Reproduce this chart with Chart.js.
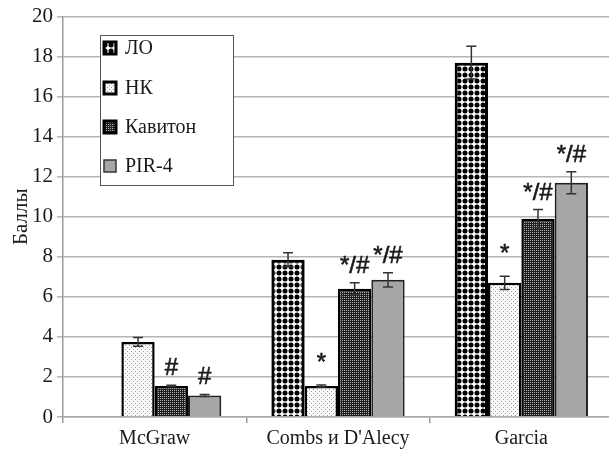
<!DOCTYPE html>
<html>
<head>
<meta charset="utf-8">
<script src="https://cdn.jsdelivr.net/npm/chart.js@4/dist/chart.umd.min.js"></script>
<style>
html,body{margin:0;padding:0;overflow:hidden;background:#fff;}
#wrap{width:616px;height:451px;}
</style>
</head>
<body>
<div id="wrap"><canvas id="c" width="616" height="451"></canvas></div>
<script>
// ---- data ----
const categories = ['McGraw', "Combs и D'Alecy", 'Garcia'];
const seriesNames = ['ЛО', 'НК', 'Кавитон', 'PIR-4'];
const loValues  = [null, 7.85, 17.7];
const loErr     = [0, 0.35, 0.82];
const nkValues  = [3.75, 1.55, 6.7];
const nkErr     = [0.22, 0.05, 0.33];
const kavValues = [1.55, 6.4, 9.9];
const kavErr    = [0.03, 0.3, 0.46];
const pirValues = [1.08, 6.85, 11.7];
const pirErr    = [0.05, 0.36, 0.55];
const loMarks   = ['', '', ''];
const nkMarks   = ['', '*', '*'];
const kavMarks  = ['#', '*/#', '*/#'];
const pirMarks  = ['#', '*/#', '*/#'];
const yTicks = [0, 2, 4, 6, 8, 10, 12, 14, 16, 18, 20];
const yTitle = 'Баллы';

const serif = '"Liberation Serif", "Times New Roman", serif';
const canvas = document.getElementById('c');
const ctx0 = canvas.getContext('2d');
function makePattern(w, h, draw) {
  const c = document.createElement('canvas');
  c.width = w; c.height = h;
  const g = c.getContext('2d');
  draw(g);
  return ctx0.createPattern(c, 'repeat');
}
const patLO = makePattern(6, 6, g => {
  g.fillStyle = '#fff'; g.fillRect(0, 0, 6, 6);
  g.fillStyle = '#000'; g.beginPath(); g.arc(3, 3, 2.5, 0, Math.PI * 2); g.fill();
});
const patNK = makePattern(4, 4, g => {
  g.fillStyle = '#fbfbfb'; g.fillRect(0, 0, 4, 4);
  g.fillStyle = '#9a9a9a'; g.fillRect(1, 1, 1, 1); g.fillRect(3, 3, 1, 1);
});
const patKAV = makePattern(2, 2, g => {
  g.fillStyle = '#1f1f1f'; g.fillRect(0, 0, 2, 2);
  g.fillStyle = '#b0b0b0'; g.fillRect(0, 0, 1, 1);
});
const grayPIR = '#a6a6a6';

const errs = [loErr, nkErr, kavErr, pirErr];
const marks = [loMarks, nkMarks, kavMarks, pirMarks];
const fills = [patLO, patNK, patKAV, grayPIR];
const borders = ['#000', '#000', '#000', '#222'];
const bws = [3, 2.5, 2.5, 2];

const errorBarPlugin = {
  id: 'errbars',
  afterDatasetsDraw(chart) {
    const ctx = chart.ctx, ys = chart.scales.y;
    ctx.save();
    chart.data.datasets.forEach((ds, i) => {
      const meta = chart.getDatasetMeta(i);
      meta.data.forEach((el, j) => {
        const v = ds.data[j];
        if (v === null || v === undefined) return;
        const e = errs[i][j];
        const x = el.x;
        const t = ys.getPixelForValue(v + e);
        const b = ys.getPixelForValue(v - e);
        ctx.strokeStyle = '#333';
        ctx.lineWidth = 1.5;
        ctx.beginPath();
        ctx.moveTo(x, t); ctx.lineTo(x, b);
        ctx.moveTo(x - 5, t); ctx.lineTo(x + 5, t);
        ctx.moveTo(x - 5, b); ctx.lineTo(x + 5, b);
        ctx.stroke();
        const m = marks[i][j];
        if (m) {
          const ty = t - (m === '*' ? 15 : 10);
          ctx.fillStyle = '#1a1a1a';
          ctx.strokeStyle = '#1a1a1a';
          ctx.lineWidth = 0.6;
          ctx.font = '24px "Liberation Sans", Arial, sans-serif';
          ctx.textAlign = 'center';
          ctx.textBaseline = 'alphabetic';
          ctx.fillText(m, x, ty);
          ctx.strokeText(m, x, ty);
        }
      });
    });
    ctx.restore();
  }
};

const legendPlugin = {
  id: 'boxlegend',
  afterDraw(chart) {
    const ctx = chart.ctx;
    ctx.save();
    const bx = 100, by = 35, bw = 133, bh = 150;
    ctx.fillStyle = '#fff';
    ctx.fillRect(bx, by, bw, bh);
    ctx.strokeStyle = '#555';
    ctx.lineWidth = 1;
    ctx.strokeRect(bx + 0.5, by + 0.5, bw, bh);
    const rowY = [48, 88, 127, 166];
    seriesNames.forEach((name, i) => {
      const y = rowY[i];
      ctx.fillStyle = fills[i];
      ctx.fillRect(104, y - 6, 12, 12);
      ctx.strokeStyle = i === 3 ? '#333' : '#000';
      ctx.lineWidth = i === 3 ? 1.5 : 3;
      ctx.strokeRect(104, y - 6, 12, 12);
      ctx.fillStyle = '#1a1a1a';
      ctx.font = '20px ' + serif;
      ctx.textAlign = 'left';
      ctx.textBaseline = 'middle';
      ctx.fillText(name, 125, y + 1);
    });
    ctx.restore();
  }
};

const valueSets = [loValues, nkValues, kavValues, pirValues];
const datasets = seriesNames.map((n, i) => ({
  label: n,
  data: valueSets[i],
  backgroundColor: fills[i],
  borderColor: borders[i],
  borderWidth: bws[i],
  borderSkipped: 'bottom'
}));

new Chart(canvas, {
  type: 'bar',
  data: { labels: categories, datasets },
  options: {
    responsive: false,
    animation: false,
    devicePixelRatio: 1,
    layout: { padding: { top: 16, right: 3, left: 0, bottom: 0 } },
    plugins: { legend: { display: false }, tooltip: { enabled: false } },
    datasets: { bar: { categoryPercentage: 0.727, barPercentage: 1 } },
    scales: {
      x: {
        grid: { display: true, drawOnChartArea: false, drawTicks: true, tickLength: 6, color: '#999', lineWidth: 1.5, offset: true },
        border: { display: true, color: '#aaa', width: 1.5 },
        ticks: { color: '#1a1a1a', font: { family: serif, size: 20 }, padding: 4, maxRotation: 0 },
        afterFit(s) { s.height = 34; }
      },
      y: {
        min: 0, max: 20,
        afterBuildTicks(s) { s.ticks = yTicks.map(v => ({ value: v })); },
        grid: { color: '#b5b5b5', lineWidth: 1.5, tickLength: 6, drawTicks: true },
        border: { display: true, color: '#999', width: 1.5 },
        ticks: { color: '#1a1a1a', font: { family: serif, size: 21 }, padding: 4 },
        title: { display: true, text: yTitle, color: '#1a1a1a', font: { family: serif, size: 21 }, padding: { top: 9, bottom: 0 } },
        afterFit(s) { s.width = 63; }
      }
    }
  },
  plugins: [errorBarPlugin, legendPlugin]
});
</script>
</body>
</html>
